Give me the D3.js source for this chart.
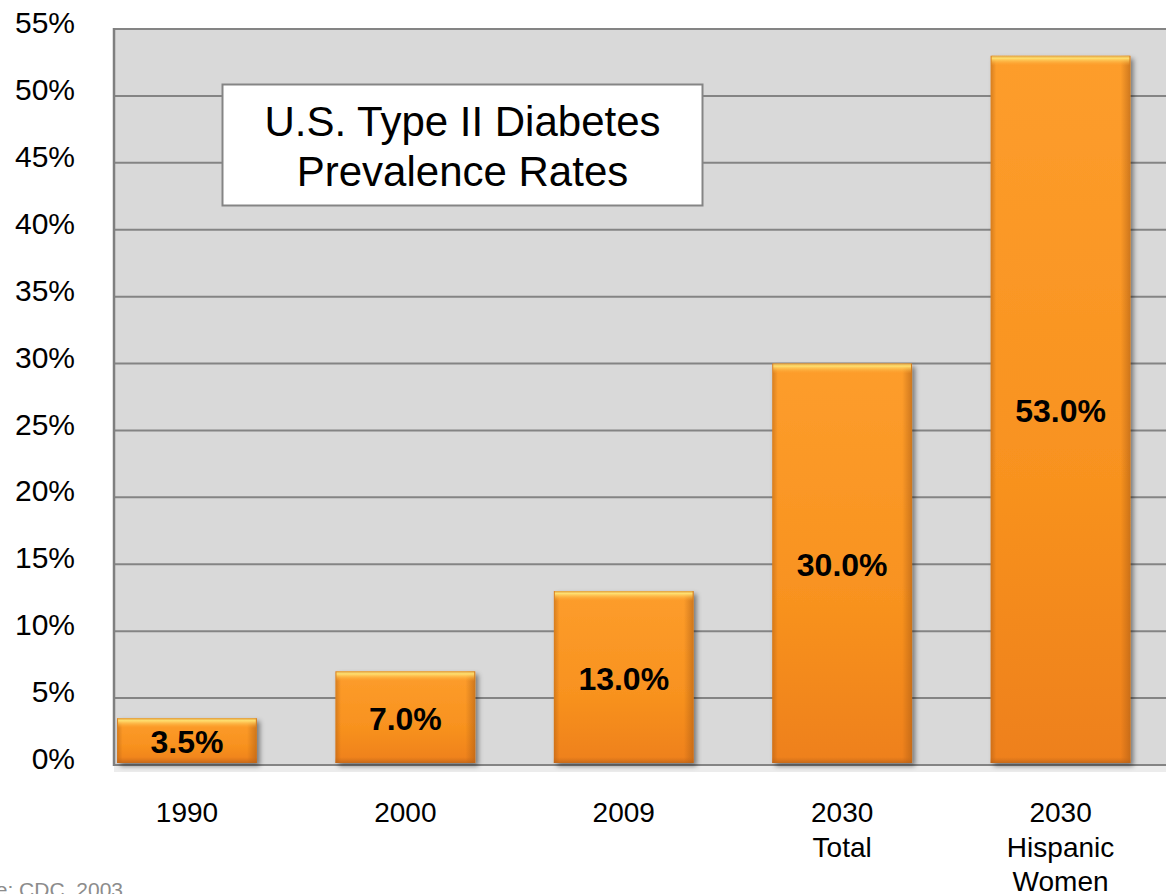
<!DOCTYPE html>
<html>
<head>
<meta charset="utf-8">
<script src="https://cdn.jsdelivr.net/npm/d3@7"></script>
<style>
  html, body { margin: 0; padding: 0; background: #ffffff; overflow: hidden; }
  svg { display: block; font-family: "Liberation Sans", Arial, sans-serif; }
</style>
</head>
<body>
<svg id="chart" width="1166" height="894"></svg>
<script>
// Diabetes prevalence by year / group
const categories = [["1990"], ["2000"], ["2009"], ["2030", "Total"], ["2030", "Hispanic", "Women"]];
const values = [3.5, 7.0, 13.0, 30.0, 53.0];
const yTicks = [0, 5, 10, 15, 20, 25, 30, 35, 40, 45, 50, 55];
const titleLines = ["U.S. Type II Diabetes", "Prevalence Rates"];
const sourceNote = "Source: CDC, 2003";

const plot = { left: 114, right: 1166, top: 29, bottom: 765 };

const svg = d3.select("#chart");
const defs = svg.append("defs");

// Vertical body gradient for bars
const bodyGrad = defs.append("linearGradient").attr("id", "barBody")
  .attr("x1", 0).attr("y1", 0).attr("x2", 0).attr("y2", 1);
bodyGrad.append("stop").attr("offset", "0%").attr("stop-color", "#fd9d2c");
bodyGrad.append("stop").attr("offset", "60%").attr("stop-color", "#f8921f");
bodyGrad.append("stop").attr("offset", "100%").attr("stop-color", "#ee801b");

// Side shading (darker right edge, slight left edge)
const sideGrad = defs.append("linearGradient").attr("id", "barSide")
  .attr("x1", 0).attr("y1", 0).attr("x2", 1).attr("y2", 0);
sideGrad.append("stop").attr("offset", "0%").attr("stop-color", "#a85a14").attr("stop-opacity", 0.45);
sideGrad.append("stop").attr("offset", "4%").attr("stop-color", "#a85a14").attr("stop-opacity", 0);
sideGrad.append("stop").attr("offset", "93%").attr("stop-color", "#a85a14").attr("stop-opacity", 0);
sideGrad.append("stop").attr("offset", "100%").attr("stop-color", "#a85a14").attr("stop-opacity", 0.55);

// Top bevel highlight
const topGrad = defs.append("linearGradient").attr("id", "barTop")
  .attr("x1", 0).attr("y1", 0).attr("x2", 0).attr("y2", 1);
topGrad.append("stop").attr("offset", "0%").attr("stop-color", "#e0a040");
topGrad.append("stop").attr("offset", "25%").attr("stop-color", "#ffe070");
topGrad.append("stop").attr("offset", "100%").attr("stop-color", "#fca232").attr("stop-opacity", 0);

// Bottom bevel
const botGrad = defs.append("linearGradient").attr("id", "barBot")
  .attr("x1", 0).attr("y1", 0).attr("x2", 0).attr("y2", 1);
botGrad.append("stop").attr("offset", "0%").attr("stop-color", "#c86a18").attr("stop-opacity", 0);
botGrad.append("stop").attr("offset", "100%").attr("stop-color", "#b4601a").attr("stop-opacity", 0.7);

const shadow = defs.append("filter").attr("id", "barShadow")
  .attr("x", "-10%").attr("y", "-10%").attr("width", "130%").attr("height", "130%");
shadow.append("feDropShadow").attr("dx", 3).attr("dy", 3).attr("stdDeviation", 2.5)
  .attr("flood-color", "#000").attr("flood-opacity", 0.45);

// Scales
const x = d3.scaleBand()
  .domain(categories.map((d, i) => i))
  .range([77.75, 77.75 + 5 * 218.4])
  .paddingInner(0.36).paddingOuter(0.18);

const y = d3.scaleLinear().domain([0, 55]).range([plot.bottom, plot.top]);

// Plot background
svg.append("rect")
  .attr("x", plot.left).attr("y", plot.top)
  .attr("width", plot.right - plot.left + 10).attr("height", plot.bottom - plot.top)
  .attr("fill", "#d9d9d9");

// light shadow under the plot area
svg.append("rect")
  .attr("x", plot.left).attr("y", plot.bottom + 1)
  .attr("width", plot.right - plot.left).attr("height", 6)
  .attr("fill", "#ececec");

// Gridlines
svg.append("g").selectAll("line").data(yTicks).join("line")
  .attr("x1", plot.left).attr("x2", plot.right + 10)
  .attr("y1", d => y(d)).attr("y2", d => y(d))
  .attr("stroke", "#848484").attr("stroke-width", 2);

// Left border of plot
svg.append("line")
  .attr("x1", plot.left).attr("x2", plot.left)
  .attr("y1", plot.top - 1).attr("y2", plot.bottom + 1)
  .attr("stroke", "#7f7f7f").attr("stroke-width", 2.5);

// Y axis labels
const yAxis = d3.axisLeft(y).tickValues(yTicks).tickFormat(d => d + "%").tickSize(0).tickPadding(0);
const yg = svg.append("g").attr("transform", "translate(75,-6)").call(yAxis);
yg.select(".domain").remove();
yg.selectAll("text")
  .attr("font-family", "Liberation Sans, Arial, sans-serif")
  .attr("font-size", 30).attr("fill", "#000");

// Bars
const bars = svg.append("g").selectAll("g.bar").data(values).join("g").attr("class", "bar");
const bw = x.bandwidth();

bars.append("rect")
  .attr("x", (d, i) => x(i)).attr("y", d => y(d))
  .attr("width", bw).attr("height", d => y(0) - y(d) - 2)
  .attr("fill", "url(#barBody)")
  .attr("filter", "url(#barShadow)");

bars.append("rect")
  .attr("x", (d, i) => x(i)).attr("y", d => y(d))
  .attr("width", bw).attr("height", d => y(0) - y(d) - 2)
  .attr("fill", "url(#barSide)");

bars.append("rect")
  .attr("x", (d, i) => x(i) + 1).attr("y", d => y(d))
  .attr("width", bw - 2).attr("height", 10)
  .attr("fill", "url(#barTop)");

bars.append("rect")
  .attr("x", (d, i) => x(i)).attr("y", d => y(0) - 8)
  .attr("width", bw).attr("height", 6)
  .attr("fill", "url(#barBot)");

// Value labels, centred in each bar
bars.append("text")
  .attr("x", (d, i) => x(i) + bw / 2)
  .attr("y", d => (y(d) + y(0)) / 2)
  .attr("dy", "0.36em")
  .attr("text-anchor", "middle")
  .attr("font-size", 32).attr("font-weight", "bold").attr("fill", "#000")
  .text(d => d.toFixed(1) + "%");

// Category labels
const xl = svg.append("g").selectAll("text").data(categories).join("text")
  .attr("text-anchor", "middle")
  .attr("font-size", 28).attr("fill", "#000")
  .attr("transform", (d, i) => `translate(${x(i) + bw / 2},822)`);
xl.selectAll("tspan").data(d => d).join("tspan")
  .attr("x", 0).attr("y", (d, j) => j * 34.5)
  .text(d => d);

// Title box
const tb = svg.append("g");
tb.append("rect")
  .attr("x", 222.5).attr("y", 84.5).attr("width", 480).attr("height", 121)
  .attr("fill", "#ffffff").attr("stroke", "#858585").attr("stroke-width", 2);
tb.selectAll("text").data(titleLines).join("text")
  .attr("x", 462.5).attr("y", (d, i) => 136 + i * 50)
  .attr("text-anchor", "middle")
  .attr("font-size", 42).attr("fill", "#000")
  .text(d => d);

// Source note (partially outside the frame)
svg.append("text")
  .attr("x", 123).attr("y", 897)
  .attr("text-anchor", "end")
  .attr("font-size", 21).attr("fill", "#8c8c8c")
  .text(sourceNote);
</script>
</body>
</html>
